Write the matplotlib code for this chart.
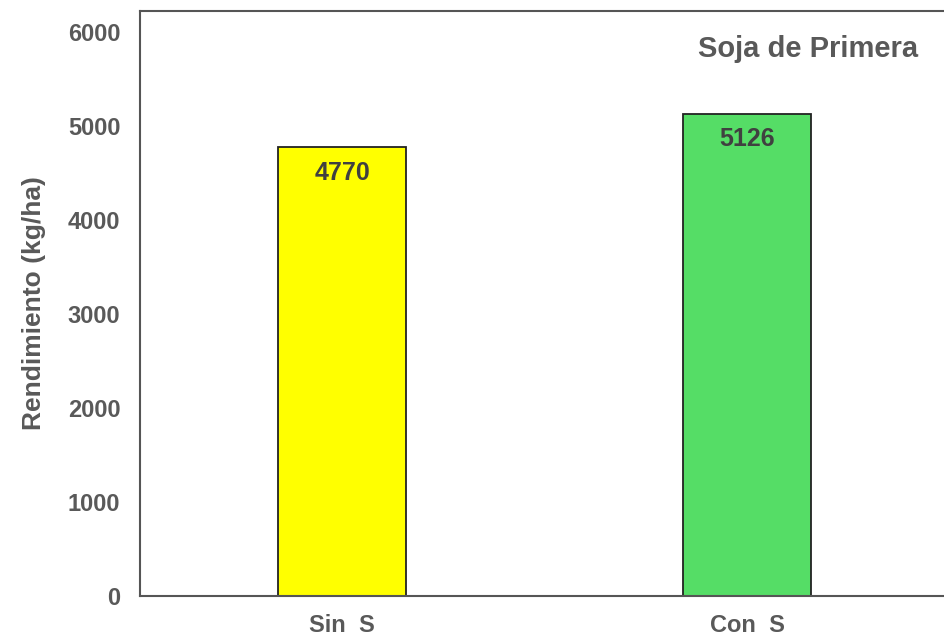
import matplotlib.pyplot as plt

# data
categories = ["Sin  S", "Con  S"]
rendimiento = [4770, 5126]
bar_colors = ["#FFFF00", "#55DD66"]
yticks = [0, 1000, 2000, 3000, 4000, 5000, 6000]

plt.rcParams['font.family'] = ['Liberation Sans', 'DejaVu Sans']
plt.rcParams['font.weight'] = 'bold'

fig = plt.figure(figsize=(9.45, 6.39), dpi=100)
ax = fig.add_axes([0.148, 0.0673, 0.857, 0.9155])

x = range(len(categories))
bars = ax.bar(x, rendimiento, width=0.316, color=bar_colors,
              edgecolor="#222222", linewidth=1.3, zorder=2)

for b, v in zip(bars, rendimiento):
    ax.text(b.get_x() + b.get_width() / 2, v - 270, str(v),
            ha="center", va="center", fontsize=18, fontweight="bold",
            color="#404040")

ax.set_xlim(-0.5, 1.5)
ax.set_ylim(0, 6220)
ax.set_xticks(list(x))
ax.set_xticklabels(categories)
ax.set_yticks(yticks)
ax.tick_params(axis="both", length=0, labelsize=17, labelcolor="#595959")
ax.tick_params(axis="y", pad=14)
ax.tick_params(axis="x", pad=13)

for s in ax.spines.values():
    s.set_color("#555555")
    s.set_linewidth(1.5)
ax.spines["right"].set_visible(False)

ax.set_ylabel("Rendimiento (kg/ha)", fontsize=19, color="#595959",
              fontweight="bold", labelpad=16)

ax.text(0.825, 0.935, "Soja de Primera", transform=ax.transAxes,
        ha="center", va="center", fontsize=21, fontweight="bold",
        color="#595959")

fig.savefig("out.png", dpi=100)
